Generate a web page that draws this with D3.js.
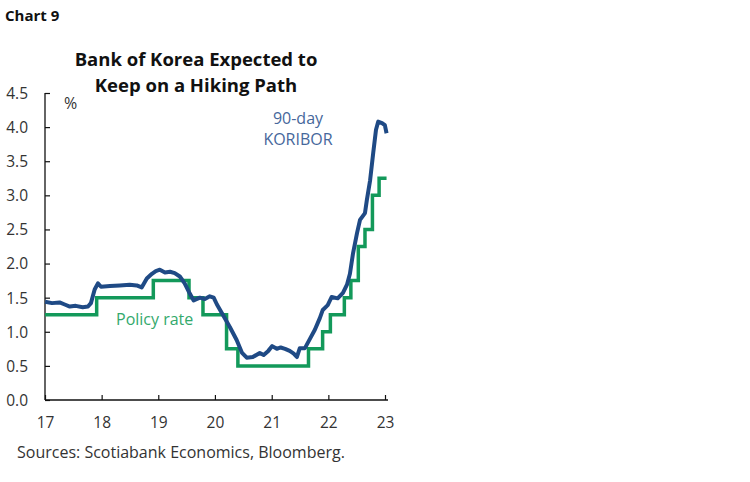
<!DOCTYPE html>
<html lang="en">
  <head>
    <meta charset="utf-8">
    <title>Chart 9</title>
    <script src="https://cdn.jsdelivr.net/npm/d3@7"></script>
    <style>
      body { margin: 0; background: #fff; }
      text { font-family: 'Open Sans', sans-serif; }
    </style>
  </head>
  <body>
    <div id="chart"></div>
    <script type="text/javascript">
      // 90-day KORIBOR
      let koriborDates = ['2017-01-02','2017-02-15','2017-04-05','2017-05-08','2017-06-10','2017-07-18',
        '2017-09-01','2017-10-05','2017-10-24','2017-11-17','2017-12-08','2017-12-28','2018-02-24',
        '2018-04-28','2018-07-01','2018-08-15','2018-09-16','2018-10-19','2018-11-21','2018-12-16',
        '2019-01-11','2019-02-13','2019-03-18','2019-04-17','2019-05-20','2019-06-20','2019-07-23',
        '2019-08-17','2019-09-26','2019-10-28','2019-11-29','2019-12-24','2020-01-14','2020-02-21',
        '2020-04-06','2020-05-20','2020-06-24','2020-07-24','2020-09-01','2020-10-16','2020-11-10',
        '2020-12-10','2021-01-04','2021-02-03','2021-02-28','2021-03-28','2021-04-27','2021-05-23',
        '2021-06-12','2021-07-01','2021-08-03','2021-09-05','2021-10-06','2021-11-07','2021-11-26',
        '2021-12-28','2022-01-22','2022-03-02','2022-04-05','2022-05-01','2022-05-20','2022-06-09',
        '2022-07-05','2022-07-24','2022-08-25','2022-09-06','2022-09-27','2022-10-17','2022-11-04',
        '2022-11-18','2022-12-13','2022-12-31','2023-01-11']
      let koriborValues = [1.44,1.42,1.43,1.40,1.37,1.38,
        1.36,1.37,1.42,1.62,1.71,1.66,1.67,
        1.68,1.69,1.68,1.65,1.78,1.85,1.89,
        1.91,1.87,1.88,1.86,1.81,1.71,1.56,
        1.46,1.50,1.48,1.52,1.50,1.40,1.25,
        1.07,0.88,0.69,0.62,0.63,0.69,0.66,
        0.72,0.79,0.75,0.77,0.75,0.72,0.68,
        0.63,0.76,0.76,0.90,1.03,1.20,1.32,
        1.39,1.51,1.49,1.57,1.69,1.85,2.15,
        2.45,2.64,2.74,2.93,3.22,3.62,3.96,
        4.08,4.06,4.03,3.91]

      // Bank of Korea base rate, value in force from each date
      let policyDates = ['2017-01-01','2017-11-30','2018-11-30','2019-07-18','2019-10-16','2020-03-16',
        '2020-05-28','2021-08-26','2021-11-25','2022-01-14','2022-04-14','2022-05-26','2022-07-13',
        '2022-08-25','2022-10-12','2022-11-24','2023-01-11']
      let policyValues = [1.25,1.50,1.75,1.50,1.25,0.75,0.50,0.75,1.00,1.25,1.50,1.75,2.25,2.50,3.00,3.25,3.25]

      let yTicks = [0,0.5,1,1.5,2,2.5,3,3.5,4,4.5]
      let xTickYears = [2017,2018,2019,2020,2021,2022,2023]

      let width = 750
      let height = 482
      let blue = '#1f4a85'
      let green = '#13995a'

      let parse = d3.timeParse('%Y-%m-%d')
      let koribor = koriborDates.map((d, i) => ({date: parse(d), value: koriborValues[i]}))
      let policy = policyDates.map((d, i) => ({date: parse(d), value: policyValues[i]}))

      let svg = d3.select('#chart').append('svg')
        .attr('width', width)
        .attr('height', height)

      let x = d3.scaleTime()
        .domain([new Date(2017, 0, 1), new Date(2023, 0, 1)])
        .range([45, 385])
      let y = d3.scaleLinear()
        .domain([0, 4.5])
        .range([400, 93])

      svg.append('text')
        .attr('x', 5).attr('y', 21)
        .attr('font-size', '15px').attr('font-weight', 'bold')
        .attr('fill', '#111')
        .text('Chart 9')

      let title = svg.append('text')
        .attr('x', 196).attr('text-anchor', 'middle')
        .attr('font-size', '18.5px').attr('font-weight', 'bold')
        .attr('fill', '#111')
      title.append('tspan').attr('x', 196).attr('y', 66).text('Bank of Korea Expected to')
      title.append('tspan').attr('x', 196).attr('y', 92).text('Keep on a Hiking Path')

      // axes, ticks drawn inward
      let yAxis = d3.axisLeft(y).tickValues(yTicks).tickSize(-5).tickPadding(17)
        .tickFormat(d3.format('.1f'))
      let yG = svg.append('g').attr('transform', 'translate(45,0)').call(yAxis)
      yG.select('.domain').attr('d', 'M0,93V400').attr('stroke', '#111').attr('stroke-width', 1.3)

      let xAxis = d3.axisBottom(x)
        .tickValues(xTickYears.map((yr) => new Date(yr, 0, 1)))
        .tickSize(-5).tickPadding(17)
        .tickFormat((d) => String(d.getFullYear() % 100))
      let xG = svg.append('g').attr('transform', 'translate(0,400)').call(xAxis)
      xG.select('.domain').attr('d', 'M45,0H388').attr('stroke', '#111').attr('stroke-width', 1.3)

      svg.selectAll('.tick line').attr('stroke', '#111').attr('stroke-width', 1.2)
      svg.selectAll('.tick text')
        .attr('font-family', "'Open Sans', sans-serif")
        .attr('font-size', '15.5px')
        .attr('fill', '#333')
      yG.selectAll('.tick text').attr('dy', '0.35em')

      svg.append('text')
        .attr('x', 64).attr('y', 109)
        .attr('font-size', '16px').attr('fill', '#333')
        .text('%')

      let policyLine = d3.line()
        .x((d) => x(d.date))
        .y((d) => y(d.value))
        .curve(d3.curveStepAfter)
      svg.append('path')
        .datum(policy)
        .attr('d', policyLine)
        .attr('fill', 'none')
        .attr('stroke', green)
        .attr('stroke-width', 3.5)

      let koriborLine = d3.line()
        .x((d) => x(d.date))
        .y((d) => y(d.value))
      svg.append('path')
        .datum(koribor)
        .attr('d', koriborLine)
        .attr('fill', 'none')
        .attr('stroke', blue)
        .attr('stroke-width', 4)
        .attr('stroke-linejoin', 'round')

      // two separate labels so the lines do not overlap
      svg.append('text')
        .attr('x', 298).attr('y', 124)
        .attr('text-anchor', 'middle')
        .attr('font-size', '16px')
        .attr('fill', '#46679b')
        .text('90-day')
      svg.append('text')
        .attr('x', 298).attr('y', 145)
        .attr('text-anchor', 'middle')
        .attr('font-size', '16px')
        .attr('fill', '#46679b')
        .text('KORIBOR')

      svg.append('text')
        .attr('x', 116).attr('y', 325)
        .attr('font-size', '16px')
        .attr('fill', '#33a96c')
        .text('Policy rate')

      svg.append('text')
        .attr('x', 17).attr('y', 458)
        .attr('font-size', '16px')
        .attr('fill', '#333')
        .text('Sources: Scotiabank Economics, Bloomberg.')
    </script>
  </body>
</html>
